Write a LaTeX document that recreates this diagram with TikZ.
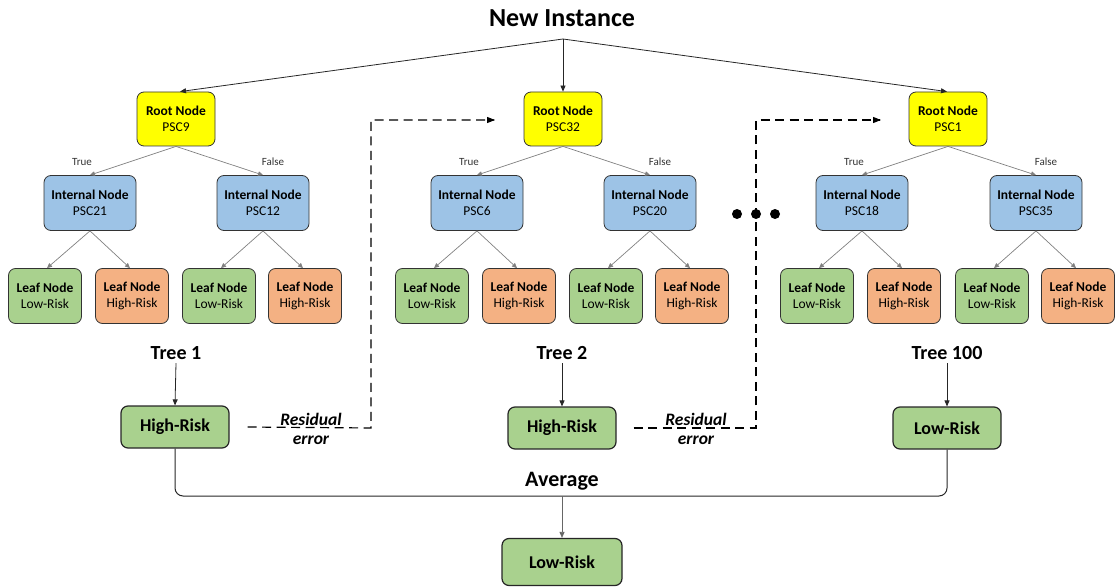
\documentclass[tikz,border=0pt]{standalone}
\usepackage{fontspec}
\setmainfont{Carlito}
\usetikzlibrary{arrows.meta}
\definecolor{cyel}{HTML}{FFFF00}
\definecolor{cblue}{HTML}{9DC3E6}
\definecolor{cgreen}{HTML}{A9D18E}
\definecolor{corange}{HTML}{F4B183}
\definecolor{cline}{HTML}{808080}
\tikzset{
  box/.style={draw=black!80, line width=0.8pt, rounded corners=7pt, align=center, inner sep=1pt, font=\fontsize{13.5}{16}\selectfont},
  rootbox/.style={box, fill=cyel, minimum width=78pt, minimum height=54pt},
  intbox/.style={box, fill=cblue, minimum width=92pt, minimum height=55pt},
  lowbox/.style={box, fill=cgreen, minimum width=73pt, minimum height=55pt},
  highbox/.style={box, fill=corange, minimum width=73pt, minimum height=55pt},
  resbox/.style={draw=black!85, line width=1.2pt, rounded corners=7pt, fill=cgreen, font=\fontsize{18}{20}\selectfont\bfseries, minimum width=108pt, minimum height=42pt},
  tarrow/.style={draw=cline, line width=0.7pt, -{Triangle[length=5pt,width=4.5pt]}},
  barrow/.style={draw=black!85, line width=0.8pt, -{Triangle[length=6pt,width=5pt]}},
  dashline/.style={draw=black, line width=1.2pt, dash pattern=on 9pt off 5.5pt},
  edgelbl/.style={font=\fontsize{11}{13}\selectfont, text=black!80},
  treelbl/.style={font=\fontsize{20}{22}\selectfont\bfseries},
  reslbl/.style={font=\fontsize{17.5}{19}\selectfont\bfseries\itshape},
}
\newcommand{\drawtree}[7]{%
  \node[rootbox] (#1r) at (#2,119) {\textbf{Root Node}\\#3};
  \node[intbox] (#1a) at (#4,203) {\textbf{Internal Node}\\#5};
  \node[intbox] (#1b) at (#6,203) {\textbf{Internal Node}\\#7};
  \node[lowbox] (#1a1) at ({#4-45},296) {\textbf{Leaf Node}\\Low-Risk};
  \node[highbox] (#1a2) at ({#4+42},296) {\textbf{Leaf Node}\\High-Risk};
  \node[lowbox] (#1b1) at ({#6-44},296) {\textbf{Leaf Node}\\Low-Risk};
  \node[highbox] (#1b2) at ({#6+42},296) {\textbf{Leaf Node}\\High-Risk};
  \draw[tarrow] (#1r.south) -- (#1a.north);
  \draw[tarrow] (#1r.south) -- (#1b.north);
  \draw[tarrow] (#1a.south) -- ([xshift=2pt]#1a1.north);
  \draw[tarrow] (#1a.south) -- ([xshift=-2pt]#1a2.north);
  \draw[tarrow] (#1b.south) -- ([xshift=2pt]#1b1.north);
  \draw[tarrow] (#1b.south) -- ([xshift=-2pt]#1b2.north);
  \node[edgelbl] at ({#4-8},162) {True};
  \node[edgelbl] at ({#6+10},162) {False};
}
\begin{document}
\begin{tikzpicture}[x=1pt,y=-1pt]
\useasboundingbox (0,0) rectangle (1115,588);
% title
\node[font=\fontsize{26}{28}\selectfont\bfseries] (title) at (562,18) {New Instance};
\coordinate (apex) at (563,39);
% trees
\drawtree{t1}{176}{PSC9}{90}{PSC21}{263}{PSC12}
\drawtree{t2}{563}{PSC32}{477}{PSC6}{650}{PSC20}
\drawtree{t3}{948}{PSC1}{862}{PSC18}{1036}{PSC35}
\draw[barrow] (apex) -- ([xshift=4pt]t1r.north);
\draw[barrow] (apex) -- (t2r.north);
\draw[barrow] (apex) -- ([xshift=-1pt]t3r.north);
% dots
\fill (737,214) circle (5pt);
\fill (756,214) circle (5pt);
\fill (775,214) circle (5pt);
% tree labels
\node[treelbl] (l1) at (176,353) {Tree 1};
\node[treelbl] (l2) at (562,353) {Tree 2};
\node[treelbl] (l3) at (947,353) {Tree 100};
\node[resbox] (p1) at (175,427) {High-Risk};
\node[resbox] (p2) at (562,428) {High-Risk};
\node[resbox] (p3) at (947,428) {Low-Risk};
\draw[barrow] (l1.south) -- (p1.north);
\draw[barrow] (l2.south) -- (p2.north);
\draw[barrow] (l3.south) -- (p3.north);
% residual error dashed connectors
\coordinate (d1a) at (371,428);
\coordinate (d1b) at (371,120);
\coordinate (d1c) at (494,120);
\draw[dashline] ([xshift=18pt]p1.east) -- (d1a) -- (d1b) -- (d1c);
\draw[black, -{Triangle[length=8pt,width=6pt]}, line width=1.2pt] ([xshift=-2pt]d1c) -- ([xshift=1pt]d1c);
\node[reslbl] at (311,419) {Residual};
\node[reslbl] at (311,440) {error};
\coordinate (d2a) at (756,428);
\coordinate (d2b) at (756,120);
\coordinate (d2c) at (880,120);
\draw[dashline] ([xshift=17pt]p2.east) -- (d2a) -- (d2b) -- (d2c);
\draw[black, -{Triangle[length=8pt,width=6pt]}, line width=1.2pt] ([xshift=-2pt]d2c) -- ([xshift=1pt]d2c);
\node[reslbl] at (696,419) {Residual};
\node[reslbl] at (696,440) {error};
% average
\coordinate (avg) at (562,496);
\draw[black!85, line width=1pt, rounded corners=8pt] (p1.south) |- (avg) -| (p3.south);
\node[font=\fontsize{22}{24}\selectfont\bfseries] (avglbl) at (562,481) {Average};
\node[resbox, minimum width=120pt, minimum height=47pt] (final) at (562,562) {Low-Risk};
\draw[barrow, draw=black!60] (avg) -- (final.north);
\end{tikzpicture}
\end{document}
